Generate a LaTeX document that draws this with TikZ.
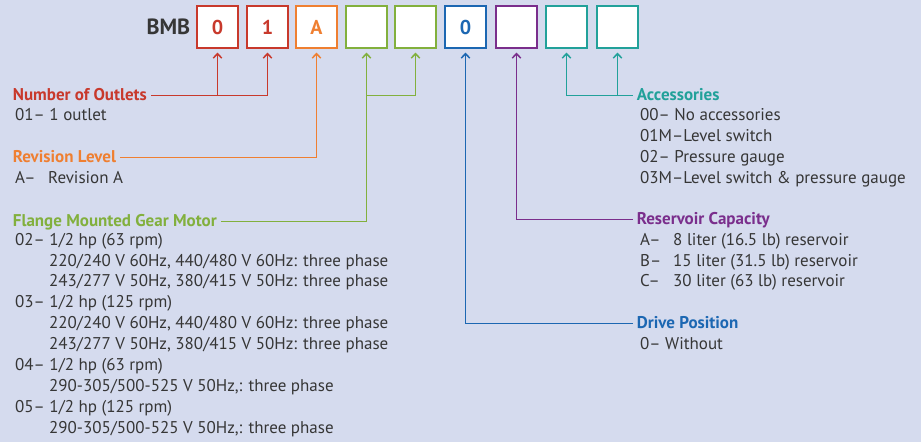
\documentclass[tikz,border=0pt]{standalone}
\usepackage{fontspec}
\setmainfont{PT Sans}
\usetikzlibrary{arrows.meta}
\definecolor{bgblue}{HTML}{D5DBEE}
\definecolor{textgray}{HTML}{363636}
\definecolor{cred}{HTML}{C8392C}
\definecolor{corange}{HTML}{EF7F31}
\definecolor{cgreen}{HTML}{82B03D}
\definecolor{cblue}{HTML}{1C67B2}
\definecolor{cpurple}{HTML}{7A2E8C}
\definecolor{cteal}{HTML}{22A19A}

\begin{document}
\begin{tikzpicture}[x=1pt,y=-1pt,>={Straight Barb[length=4.5pt,width=8.5pt]},
    codebox/.style={draw,fill=white,line width=1.6pt,minimum width=40.5pt,minimum height=42.5pt,inner sep=0pt,font=\bfseries\fontsize{20}{24}\selectfont},
    title/.style={anchor=west,inner xsep=4pt,inner ysep=0pt,text height=9.6pt,text depth=0pt,font=\bfseries\fontsize{17}{20.9}\selectfont},
    list/.style={anchor=base west,inner sep=0pt,text=textgray,font=\fontsize{17}{20.9}\selectfont},
    link/.style={->,line width=1.5pt,shorten >=3.5pt}]
            % background
            \fill[bgblue] (0,0) rectangle (921,442);

            % code boxes
            \foreach \i/\x/\col/\txt in {1/217.5/cred/0,2/267.5/cred/1,3/316.5/corange/A,4/366.5/cgreen/,5/415.5/cgreen/,6/465.5/cblue/0,7/516.5/cpurple/,8/566.5/cteal/,9/617.5/cteal/}
                \node[codebox,draw=\col,text=\col] (b\i) at (\x,27) {\txt};
            \node[anchor=east,inner sep=0pt,text=textgray,font=\bfseries\fontsize{22}{26}\selectfont] (bmb) at ([xshift=-6pt]b1.west) {BMB};

            % row where the joined arrows meet
            \coordinate (joinrow) at (0,95.5);

            % number of outlets
            \node[title,text=cred] (outlets) at (8.7,95.5) {Number of Outlets};
            \node[list] (outletsList) at (15,120.6) {\begin{tabular}[t]{@{}l@{}}01– 1 outlet\end{tabular}};
            \draw[link,cred] (outlets.east) -| (b2.south);
            \draw[link,cred] (b1.south |- joinrow) -- (b1.south);

            % revision level
            \node[title,text=corange] (revision) at (8.7,157.5) {Revision Level};
            \node[list] (revisionList) at (15,183.4) {\begin{tabular}[t]{@{}l@{}}\makebox[33pt][l]{A–}Revision A\end{tabular}};
            \draw[link,corange] (revision.east) -| (b3.south);

            % gear motor
            \node[title,text=cgreen] (motor) at (8.7,221.5) {Flange Mounted Gear Motor};
            \node[list] (motorList) at (15,245.1) {\begin{tabular}[t]{@{}l@{}}
                02– 1/2 hp (63 rpm)\\
                \hspace*{34pt}220/240 V 60Hz, 440/480 V 60Hz: three phase\\
                \hspace*{34pt}243/277 V 50Hz, 380/415 V 50Hz: three phase\\
                03– 1/2 hp (125 rpm)\\
                \hspace*{34pt}220/240 V 60Hz, 440/480 V 60Hz: three phase\\
                \hspace*{34pt}243/277 V 50Hz, 380/415 V 50Hz: three phase\\
                04– 1/2 hp (63 rpm)\\
                \hspace*{34pt}290-305/500-525 V 50Hz,: three phase\\
                05– 1/2 hp (125 rpm)\\
                \hspace*{34pt}290-305/500-525 V 50Hz,: three phase
                \end{tabular}};
            \draw[link,cgreen] (motor.east) -| (b4.south);
            \draw[link,cgreen] (b4.south |- joinrow) -| (b5.south);

            % accessories
            \node[title,text=cteal] (accessories) at (632.7,95.5) {Accessories};
            \node[list] (accessoriesList) at (640,120.6) {\begin{tabular}[t]{@{}l@{}}
                00– No accessories\\
                01M–Level switch\\
                02– Pressure gauge\\
                03M–Level switch \& pressure gauge
                \end{tabular}};
            \draw[link,cteal] (accessories.west) -| (b8.south);
            \draw[link,cteal] (b9.south |- accessories.west) -- (b9.south);

            % reservoir capacity
            \node[title,text=cpurple] (reservoir) at (632.7,219.5) {Reservoir Capacity};
            \node[list] (reservoirList) at (640,245.1) {\begin{tabular}[t]{@{}l@{}}
                \makebox[33pt][l]{A–}8 liter (16.5 lb) reservoir\\
                \makebox[33pt][l]{B–}15 liter (31.5 lb) reservoir\\
                \makebox[33pt][l]{C–}30 liter (63 lb) reservoir
                \end{tabular}};
            \draw[link,cpurple] (reservoir.west) -| (b7.south);

            % drive position
            \node[title,text=cblue] (drive) at (632.7,323.5) {Drive Position};
            \node[list] (driveList) at (640,349.6) {\begin{tabular}[t]{@{}l@{}}0– Without\end{tabular}};
            \draw[link,cblue] (drive.west) -| (b6.south);
        \end{tikzpicture}
\end{document}
